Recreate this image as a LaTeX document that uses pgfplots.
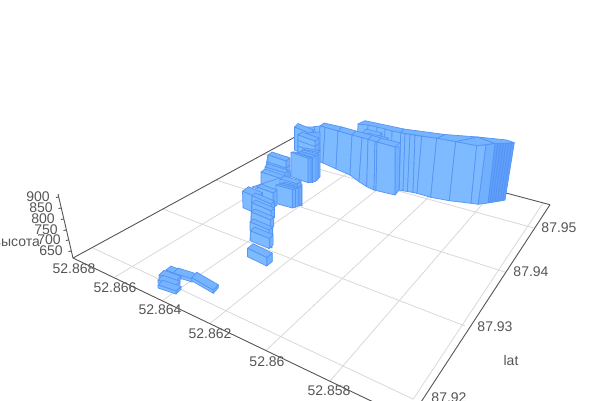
\documentclass[border=0pt]{standalone}
\usepackage{fontspec}
\setmainfont{Liberation Sans}
\usepackage{pgfplots}
\pgfplotsset{compat=1.18}
\definecolor{front}{RGB}{125,186,255}
\definecolor{sidef}{RGB}{112,176,254}
\definecolor{topf}{RGB}{118,180,255}
\definecolor{slice}{RGB}{96,160,250}
\definecolor{edge}{RGB}{84,148,244}
\definecolor{gridc}{RGB}{216,216,216}
\definecolor{axisc}{RGB}{85,85,85}
\definecolor{txt}{RGB}{85,85,85}
\tikzset{lab/.style={font=\fontsize{14}{16}\selectfont,text=txt,inner sep=0pt}}
% one quadrilateral face, in picture coordinates
\newcommand{\Q}[9]{\addplot[fill=#1,draw=edge,line width=0.7pt,line join=round] coordinates {(#2,#3) (#4,#5) (#6,#7) (#8,#9)} -- cycle;}
% a bar: front-left foot x y, width vector, side vector, height vector
\newcommand{\B}[8]{%
  \pgfmathsetmacro\bx{#1+#3}\pgfmathsetmacro\by{#2+#4}%
  \pgfmathsetmacro\cx{\bx+#7}\pgfmathsetmacro\cy{\by+#8}%
  \pgfmathsetmacro\dx{#1+#7}\pgfmathsetmacro\dy{#2+#8}%
  \pgfmathsetmacro\ex{\bx+#5}\pgfmathsetmacro\ey{\by+#6}%
  \pgfmathsetmacro\fx{\cx+#5}\pgfmathsetmacro\fy{\cy+#6}%
  \pgfmathsetmacro\gx{\dx+#5}\pgfmathsetmacro\gy{\dy+#6}%
  \edef\doit{\noexpand\Q{sidef}{\bx}{\by}{\ex}{\ey}{\fx}{\fy}{\cx}{\cy}%
    \noexpand\Q{topf}{\dx}{\dy}{\cx}{\cy}{\fx}{\fy}{\gx}{\gy}%
    \noexpand\Q{front}{#1}{#2}{\bx}{\by}{\cx}{\cy}{\dx}{\dy}}\doit}
\newcommand{\G}[4]{\addplot[gridc,line width=0.8pt] coordinates {(#1,#2) (#3,#4)};}
\newcommand{\A}[4]{\addplot[axisc,line width=0.9pt] coordinates {(#1,#2) (#3,#4)};}
\begin{document}
\begin{tikzpicture}
\path[use as bounding box] (0,0) rectangle (600pt,400pt);
\begin{axis}[
  at={(0,0)},anchor=south west,
  scale only axis,width=600pt,height=400pt,
  xmin=0,xmax=600,ymin=0,ymax=400,y dir=reverse,
  hide axis,clip=true]
% ground grid: constant lat
\G{93}{248}{413}{399}
\G{163}{209}{465}{326}
\G{216}{180}{505}{272}
\G{263}{154}{534}{228}
% ground grid: constant lon
\G{115}{277}{331}{146.4}
\G{162}{300.8}{371}{157}
\G{210}{323.5}{406}{166.5}
\G{266}{350.5}{449}{178}
\G{330}{381}{494.5}{190}
\G{413}{399.5}{543}{203}
% axis box
\A{73}{258}{295}{137}
\A{295}{137}{550}{204.7}
\A{73}{258}{367}{399}
\A{367}{399}{380}{405}
\A{550}{204.7}{423}{399}
\A{423}{399}{415}{411}
\A{73}{258}{58}{194}
\A{58.7}{197}{56}{197.5}
\A{61.3}{208}{58.5}{208.5}
\A{63.8}{219}{61}{219.5}
\A{66.4}{230}{63.5}{230.5}
\A{68.7}{240}{66}{240.5}
\A{71.2}{251}{68.5}{251.5}
% right end of the wall: thin slices
\Q{slice}{505}{200}{514.3}{142.7}{511.5}{143}{502.5}{200.5}
\Q{slice}{502.5}{200.5}{511.5}{143}{508.8}{143.1}{500}{201}
\Q{slice}{500}{201}{508.8}{143.1}{506}{143.2}{497.5}{201.4}
\Q{slice}{497.5}{201.4}{506}{143.2}{503.3}{143.3}{495}{201.8}
\Q{slice}{495}{201.8}{503.3}{143.3}{500.6}{143.4}{492.5}{202.2}
\Q{slice}{492.5}{202.2}{500.6}{143.4}{498}{143.4}{490}{202.6}
\Q{slice}{490}{202.6}{498}{143.4}{495}{143.5}{488}{203}
% wall top surface
\Q{topf}{436.7}{138.3}{455.7}{141.7}{478}{137}{445}{134.5}
\Q{topf}{455.7}{141.7}{476.7}{145.7}{495}{143.5}{478}{137}
\Q{topf}{478}{137}{495}{143.5}{514.3}{142.7}{506.7}{140}
\Q{topf}{358}{124}{400.7}{132.7}{404}{129}{365}{120.7}
\Q{topf}{400.7}{132.7}{436.7}{138.3}{445}{134.5}{404}{129}
% rear wall, left to right
\Q{front}{358}{124}{368}{125}{366}{172}{356}{172}
\Q{front}{368}{125}{377}{127}{375}{178}{366}{172}
\Q{front}{377}{127}{385}{129}{383}{185}{375}{178}
\Q{front}{385}{129}{392}{131}{391}{188}{383}{185}
\Q{front}{392}{131}{400.7}{132.7}{399.3}{190}{391}{188}
\Q{front}{400.7}{132.7}{405}{133.7}{403}{190.8}{399.3}{190}
\Q{front}{405}{133.7}{410}{134.5}{407.5}{191.5}{403}{190.8}
\Q{front}{410}{134.5}{415}{135.3}{413}{192.5}{407.5}{191.5}
\Q{front}{415}{135.3}{421.7}{136.3}{417}{193.3}{413}{192.5}
\Q{front}{421.7}{136.3}{436.7}{138.3}{430.7}{197.3}{417}{193.3}
\Q{front}{436.7}{138.3}{455.7}{141.7}{449.3}{200.7}{430.7}{197.3}
\Q{front}{455.7}{141.7}{476.7}{145.7}{471}{203.3}{449.3}{200.7}
\Q{front}{476.7}{145.7}{486}{145}{478.3}{204.3}{471}{203.3}
\Q{sidef}{486}{145}{495}{143.5}{488}{203}{478.3}{204.3}
% small stacks between the rear and front walls
\B{362}{139}{16}{4}{4}{-4}{0}{-6}
\B{364}{143}{20}{5}{4}{-4}{0}{-6}
% front wall top surface
\Q{topf}{320}{126}{338}{131}{342}{127}{324}{123}
\Q{topf}{338}{131}{352}{135}{356}{131}{342}{127}
\Q{topf}{352}{135}{368}{139.4}{372}{135.4}{356}{131}
\Q{topf}{368}{139.4}{377}{142}{381}{138}{372}{135.4}
\Q{topf}{377}{142}{395}{147}{400}{143}{381}{138}
\Q{sidef}{395}{147}{400}{147}{399}{190}{395}{195}
% front wall faces
\Q{front}{313.5}{126.7}{320}{126}{318}{161}{312}{158}
\Q{front}{320}{126}{325}{127.4}{323}{163}{318}{161}
\Q{front}{325}{127.4}{338}{131}{336}{168.9}{323}{163}
\Q{front}{338}{131}{352}{135}{350}{175}{336}{168.9}
\Q{front}{352}{135}{362}{137.8}{359}{181.7}{350}{175}
\Q{front}{362}{137.8}{368}{139.4}{366.7}{186.7}{359}{181.7}
\Q{front}{368}{139.4}{375}{141.5}{374}{190}{366.7}{186.7}
\Q{front}{375}{141.5}{377}{142}{376}{190.5}{374}{190}
\Q{front}{377}{142}{395}{147}{395}{195}{376}{190.5}
% block at the corner, back to front
\Q{front}{295}{127}{314}{127}{320}{150}{295}{150}
\B{294.5}{150}{15.5}{6.5}{3.5}{-3.5}{0}{-23}
\Q{sidef}{298}{134}{320}{132}{320}{152}{298}{152}
\B{298}{152}{17}{6}{4}{-3}{0}{-6}
\B{298}{146}{17}{6}{4}{-3}{0}{-6}
\B{298}{140.5}{17}{6}{4}{-3}{0}{-5.5}
\B{303}{175.5}{15}{3}{2}{-1.5}{0}{-26}
\B{300.5}{177}{15}{4}{2.5}{-1.5}{0}{-25.5}
\B{297}{178}{15.5}{4.5}{3.5}{-1.5}{0}{-25}
\B{294}{177.5}{15}{5}{3}{-0.5}{0}{-25}
\B{291}{176.7}{17}{6}{3}{-0.5}{0}{-24.4}
% stacks and blocks left of it
\Q{front}{268}{155}{288}{157}{292}{186}{262}{186}
\B{268}{174}{18}{6}{4}{-3}{0}{-6}
\B{268}{168}{18}{6}{4}{-3}{0}{-6}
\B{268}{162}{18}{6}{4}{-3}{0}{-7}
\B{265}{176}{20}{6}{3}{-3}{0}{-9}
\B{261}{184}{21}{7}{4}{-3}{0}{-12}
\Q{front}{252}{187}{280}{178}{302}{184}{302}{206}
\B{280}{197}{17}{5}{4}{-3}{0}{-18}
\B{282}{201}{17}{4.5}{2.5}{-1}{0}{-18}
\B{279}{202.5}{16.5}{4.5}{2.7}{-1}{0}{-18.3}
\B{276}{203.5}{16.5}{4.5}{3}{-1}{0}{-18.5}
\B{257}{202}{16}{6}{4}{-3}{0}{-15}
\B{243}{207.7}{14}{6}{6}{-4.5}{-0.5}{-16.5}
% the column, far to near
\Q{front}{252}{196}{274}{204}{272}{248}{250}{240}
\B{252}{204}{19}{8}{3.5}{-3}{0}{-8}
\B{252}{212.5}{19}{8}{3.5}{-3}{0}{-9.5}
\B{251.3}{221}{19}{8}{3.5}{-3}{0}{-9}
\B{250}{230.5}{19}{8}{3.5}{-3}{0}{-8.5}
\B{250.7}{241}{18.6}{7.6}{3.8}{-4}{0}{-10}
\B{247.5}{256.7}{19.2}{9.3}{5.6}{-4.5}{0}{-8.4}
% low bars at the lower left
\B{166}{273}{12}{5}{5}{-4}{0}{-3}
\B{173}{276}{19}{6}{5}{-5}{0}{-3}
\B{191.7}{280.7}{21.6}{12.6}{5}{-5.5}{0}{-3}
\B{159}{278}{17}{6}{5}{-4.7}{0}{-3}
\B{158}{283}{17}{6}{5}{-4.7}{0}{-3}
\B{158}{288}{18}{6}{5}{-4.7}{0}{-3}
% tick labels
\node[lab] at (axis cs:38,197) {900};
\node[lab] at (axis cs:41,208) {850};
\node[lab] at (axis cs:43,219) {800};
\node[lab] at (axis cs:46,230) {750};
\node[lab] at (axis cs:49,240) {700};
\node[lab] at (axis cs:51,251) {650};
\node[lab,anchor=east] at (axis cs:40,243) {высота};
\node[lab] at (axis cs:74,269) {52.868};
\node[lab] at (axis cs:115,288) {52.866};
\node[lab] at (axis cs:160,310) {52.864};
\node[lab] at (axis cs:210,334) {52.862};
\node[lab] at (axis cs:267,362) {52.86};
\node[lab] at (axis cs:329,391) {52.858};
\node[lab] at (axis cs:559,228) {87.95};
\node[lab] at (axis cs:531,272) {87.94};
\node[lab] at (axis cs:495,327) {87.93};
\node[lab] at (axis cs:449,398) {87.92};
\node[lab] at (axis cs:511,360) {lat};
\end{axis}
\end{tikzpicture}
\end{document}
